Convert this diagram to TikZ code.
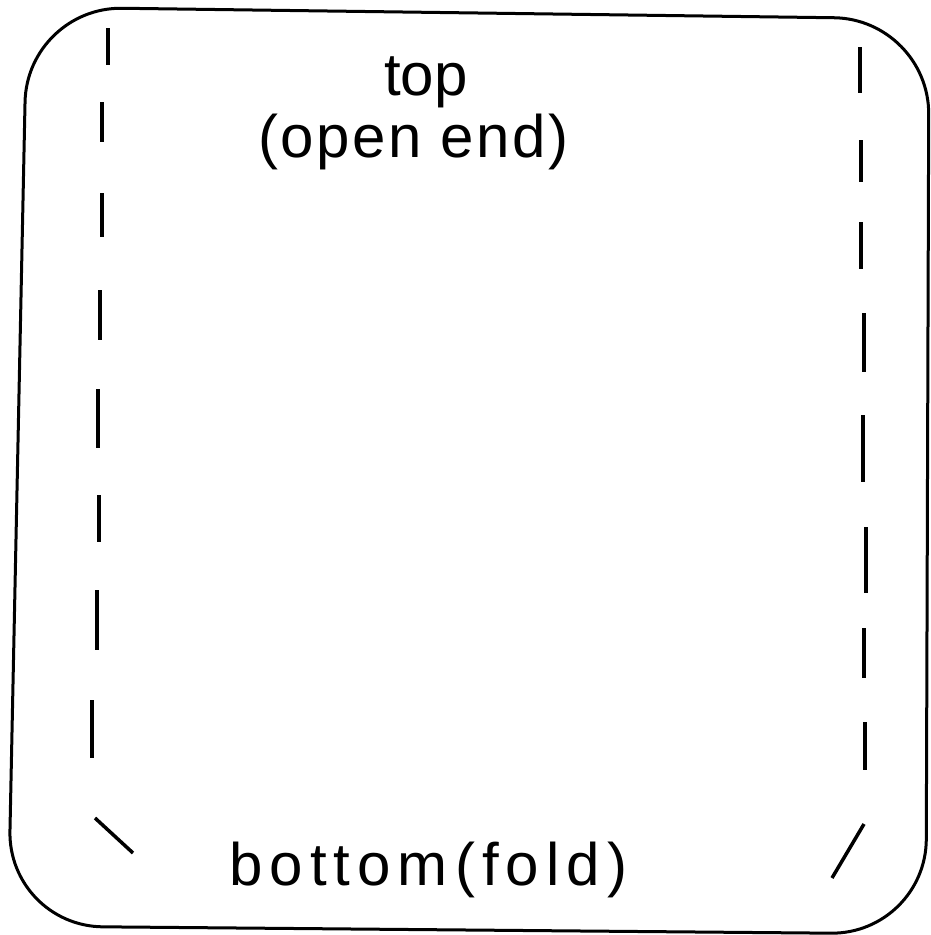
\documentclass[tikz,border=0pt]{standalone}
\usepackage{fontspec}
\setmainfont{Liberation Sans}
\begin{document}
\begin{tikzpicture}[x=1pt,y=-1pt,
  outline/.style={line width=3pt, rounded corners=95pt},
  seam/.style={line width=3.5pt},
  lbl/.style={inner sep=0pt, anchor=base west, font=\fontsize{60}{72}\selectfont}]
\useasboundingbox (0,0) rectangle (930,935);
% outer outline (slightly skewed rounded square)
\coordinate (tl) at (27,7);
\coordinate (tr) at (929,19);
\coordinate (br) at (926,934);
\coordinate (bl) at (8,926);
\draw[outline] (tl) -- (tr) -- (br) -- (bl) -- cycle;
% left seam dashes
\draw[seam] (108,28) -- (108,65);
\draw[seam] (102,102) -- (102,142);
\draw[seam] (102,193) -- (102,237);
\draw[seam] (100,290) -- (100,340);
\draw[seam] (98,389) -- (98,448);
\draw[seam] (99,495) -- (99,542);
\draw[seam] (97,590) -- (97,650);
\draw[seam] (92,700) -- (92,758);
\draw[seam] (95,818) -- (133,853);
% right seam dashes
\draw[seam] (860,47) -- (860,93);
\draw[seam] (861,140) -- (861,182);
\draw[seam] (861,222) -- (861,269);
\draw[seam] (864,313) -- (864,372);
\draw[seam] (863,415) -- (863,482);
\draw[seam] (866,527) -- (866,593);
\draw[seam] (864,628) -- (864,678);
\draw[seam] (865,722) -- (865,770);
\draw[seam] (864,824) -- (832,878);
% labels
\node[lbl] (top) at (384,95) {top};
\node[lbl, font=\fontsize{60}{72}\selectfont\addfontfeature{LetterSpace=4.2}] (open) at (258,157) {(open end)};
\node[lbl, font=\fontsize{60}{72}\selectfont\addfontfeature{LetterSpace=11.8}] (bottom) at (229,885) {bottom(fold)};
\end{tikzpicture}
\end{document}
